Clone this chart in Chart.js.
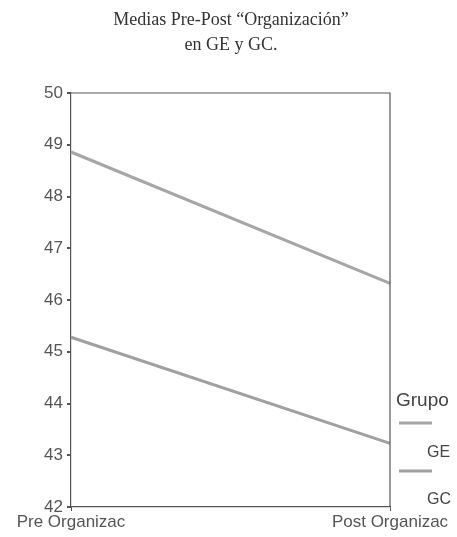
<!DOCTYPE html>
<html>
<head>
<meta charset="utf-8">
<script src="https://cdn.jsdelivr.net/npm/chart.js@4"></script>
<style>
html,body{margin:0;padding:0;background:#fff;}
#wrap{position:relative;width:457px;height:537px;}
</style>
</head>
<body>
<div id="wrap"><canvas id="c" width="457" height="537"></canvas></div>
<script>
const categories = ["Pre Organizac", "Post Organizac"];
const seriesNames = ["GE", "GC"];
const geValues = [48.86, 46.32];
const gcValues = [45.28, 43.23];
const yTicks = [42, 43, 44, 45, 46, 47, 48, 49, 50];
const titleLines = ["Medias Pre-Post \u201cOrganizaci\u00f3n\u201d", "en GE y GC."];
const legendTitle = "Grupo";

const lineColor = "#a6a6a6";
const axisColor = "#555555";

const overlay = {
  id: "overlay",
  afterDraw(chart) {
    const ctx = chart.ctx;
    const a = chart.chartArea;
    ctx.save();
    ctx.strokeStyle = axisColor;
    ctx.lineWidth = 1.2;
    ctx.beginPath();
    ctx.moveTo(a.left, a.top);
    ctx.lineTo(a.right, a.top);
    ctx.lineTo(a.right, a.bottom);
    ctx.stroke();
    ctx.fillStyle = "#333";
    ctx.font = "18px 'Liberation Serif'";
    ctx.textAlign = "center";
    ctx.textBaseline = "middle";
    ctx.fillText(titleLines[0], 231, 20);
    ctx.fillText(titleLines[1], 231, 45);
    ctx.textAlign = "left";
    ctx.fillStyle = "#444";
    ctx.font = "19px 'Liberation Sans'";
    ctx.fillText(legendTitle, 396, 401);
    ctx.font = "16px 'Liberation Sans'";
    const items = [[423, 453], [471, 500]];
    chart.data.datasets.forEach((ds, i) => {
      ctx.strokeStyle = ds.borderColor;
      ctx.lineWidth = 3;
      ctx.beginPath();
      ctx.moveTo(399, items[i][0]);
      ctx.lineTo(432, items[i][0]);
      ctx.stroke();
      ctx.fillStyle = "#444";
      ctx.fillText(ds.label, 427, items[i][1]);
    });
    ctx.restore();
  }
};

new Chart(document.getElementById("c"), {
  type: "line",
  data: {
    labels: categories,
    datasets: [
      { label: seriesNames[0], data: geValues, borderColor: lineColor, borderWidth: 3, pointRadius: 0, tension: 0 },
      { label: seriesNames[1], data: gcValues, borderColor: "#a0a0a0", borderWidth: 3, pointRadius: 0, tension: 0 }
    ]
  },
  options: {
    responsive: false,
    animation: false,
    layout: { padding: { top: 93, right: 67, left: 0, bottom: 0 } },
    plugins: { legend: { display: false }, title: { display: false }, tooltip: { enabled: false } },
    scales: {
      x: {
        offset: false,
        border: { display: true, color: axisColor, width: 1.2 },
        grid: { display: true, drawOnChartArea: false, tickLength: 4, color: axisColor },
        ticks: { color: "#555", font: { family: "'Liberation Sans'", size: 17 }, padding: 1, maxRotation: 0, autoSkip: false },
        afterFit(s) { s.height = 30; }
      },
      y: {
        min: 42, max: 50,
        afterBuildTicks(s) { s.ticks = yTicks.map(v => ({ value: v })); },
        border: { display: true, color: axisColor, width: 1.2 },
        grid: { display: true, drawOnChartArea: false, tickLength: 4, color: axisColor, lineWidth: 2 },
        ticks: { color: "#555", font: { family: "'Liberation Sans'", size: 17 }, padding: 4 },
        afterFit(s) { s.width = 71; }
      }
    }
  },
  plugins: [overlay]
});
</script>
</body>
</html>
